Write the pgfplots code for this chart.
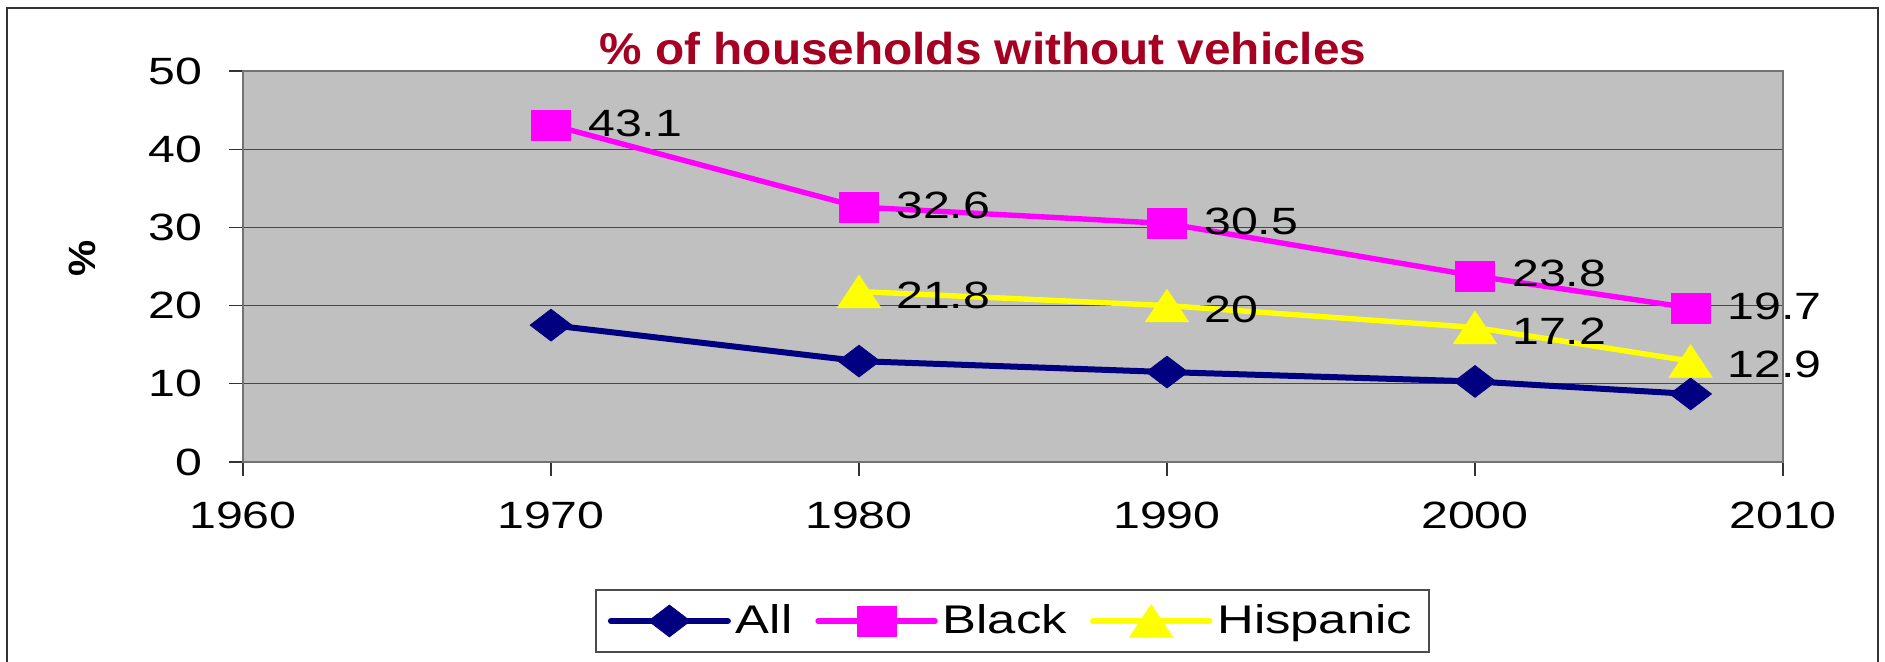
\documentclass[border=0pt]{standalone}
\usepackage{pgfplots}
\pgfplotsset{compat=1.18}
\usepackage{fontspec}
\setmainfont{Liberation Sans}[FakeStretch=1.27]
\newfontfamily\titlefont{Liberation Sans}[FakeStretch=1.07]
\definecolor{allc}{RGB}{0,0,128}
\definecolor{blackc}{RGB}{255,0,255}
\definecolor{hispc}{RGB}{255,255,0}
\definecolor{titlec}{RGB}{165,0,33}
\definecolor{plotbg}{RGB}{192,192,192}
\newcommand{\chartfont}{\fontsize{19}{22}\selectfont}
\newcommand{\legfont}{\fontsize{20}{23}\selectfont}
\begin{document}
\begin{tikzpicture}
\useasboundingbox (0,0) rectangle (942.5pt,331pt);
\draw[black!80, line width=1pt] (3.5pt,-5pt) -- (3.5pt,327pt) -- (939pt,327pt) -- (939pt,-5pt);
\begin{axis}[
  at={(121.5pt,100pt)}, anchor=south west,
  scale only axis, width=770pt, height=195.5pt,
  xmin=1960, xmax=2010, ymin=0, ymax=50,
  xtick={1960,1970,...,2010}, ytick={0,10,...,50},
  axis background/.style={fill=plotbg},
  axis line style={draw=black!55, line width=1pt},
  ymajorgrids, grid style={black!72, line width=0.5pt},
  tick align=outside, xtick pos=left, ytick pos=left,
  major tick length=7pt, tick style={black!80, line width=0.6pt},
  font=\chartfont,
  tick label style={font=\chartfont},
  /pgf/number format/assume math mode=true,
  /pgf/number format/1000 sep={},
  xticklabel style={inner sep=0pt, anchor=north},
  yticklabel style={inner sep=0pt, anchor=east},
  xticklabel shift=13pt,
  yticklabel shift=13pt,
  nodes near coords align=horizontal,
  every node near coord/.append style={inner sep=0pt, xshift=18.5pt, yshift=1pt, font=\chartfont, text=black},
  legend columns=3,
  legend style={at={(0.4997,-0.4066)}, anchor=center, draw=black!70, line width=0.8pt, fill=white,
    inner xsep=6pt, inner ysep=5pt, font=\legfont,
    nodes={inner sep=2.5pt},
    /tikz/every even column/.append style={column sep=9pt}},
  legend image code/.code={\draw[mark repeat=2,mark phase=2, line cap=round] plot coordinates {(0pt,0pt) (29.25pt,0pt) (58.5pt,0pt)};},
]
\addplot[allc, line width=3pt, mark=diamond*, mark size=8pt, mark options={solid, line width=0.3pt, xscale=1.75}]
  coordinates {(1970,17.5) (1980,12.9) (1990,11.5) (2000,10.3) (2007,8.7)};
\addlegendentry{All}
\addplot[blackc, line width=2.7pt, mark=square*, mark size=7.5pt, mark options={solid, line width=0.3pt, xscale=1.3},
  nodes near coords]
  coordinates {(1970,43.1) (1980,32.6) (1990,30.5) (2000,23.8) (2007,19.7)};
\addlegendentry{Black}
\addplot[hispc, line width=2.7pt, mark=triangle*, mark size=10.9pt, mark options={solid, line width=0.3pt, xscale=1.15, yshift=-2.7pt},
  nodes near coords]
  coordinates {(1980,21.8) (1990,20) (2000,17.2) (2007,12.9)};
\addlegendentry{Hispanic}
\end{axis}
\node[anchor=base, inner sep=0pt, text=titlec, font=\titlefont\bfseries\fontsize{22.3}{26}\selectfont] at (491.5pt,298.5pt) {\% of households without vehicles};
\node[rotate=90, inner sep=0pt, font=\titlefont\bfseries\fontsize{19}{22}\selectfont] at (41pt,201.75pt) {\%};
\end{tikzpicture}
\end{document}
